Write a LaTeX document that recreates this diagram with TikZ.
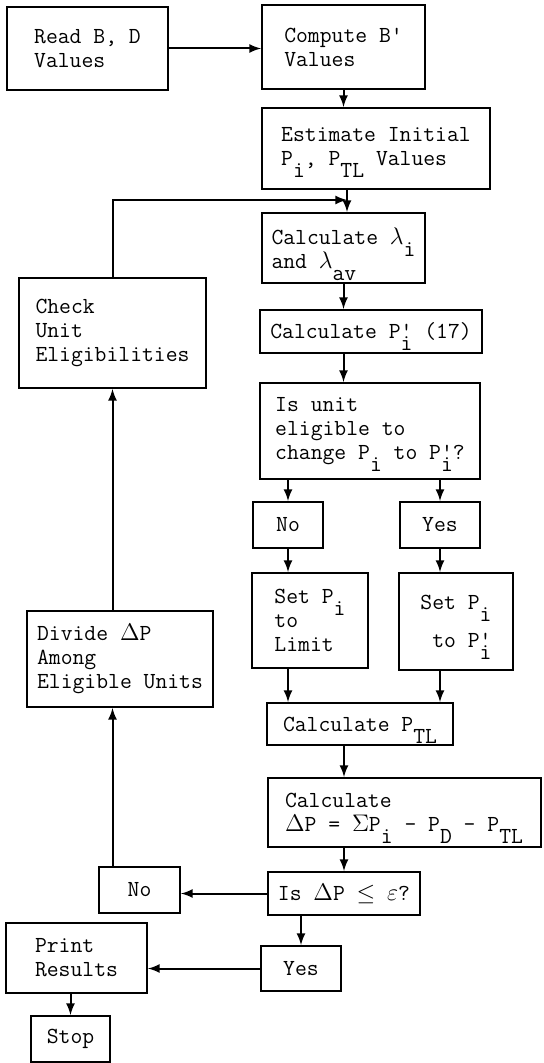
\documentclass[tikz,border=0pt]{standalone}
\usepackage{amsmath,amssymb}
\usetikzlibrary{arrows,calc}
\tikzset{>=latex}
\newcommand{\lo}[1]{\raisebox{-6pt}[0pt][0pt]{#1}}
\newcommand{\Pp}{P\rlap{'}\lo{i}}
\tikzset{
  box/.style={draw,line width=1pt,align=left,inner sep=0pt,
    font=\fontsize{11.5}{12}\selectfont\ttfamily},
  flow/.style={->,line width=1pt}
}

\begin{document}
\begin{tikzpicture}[x=0.5pt,y=-0.5pt]
  \useasboundingbox (0,0) rectangle (543,1063);

  % Boxes
  \node[box,minimum width=80.5pt,minimum height=41.5pt] (read) at (87.5,48.5) {Read B, D\\Values};
  \node[box,minimum width=81.5pt,minimum height=42pt] (compute) at (343.5,47) {Compute B'\\Values};
  \node[box,minimum width=114pt,minimum height=40.5pt] (estimate) at (376,148.5) {Estimate Initial\\P\lo{i}, P\lo{TL} Values};
  \node[box,minimum width=81.5pt,minimum height=35pt] (lambda) at (343.5,248) {Calculate $\lambda$\lo{i}\\and $\lambda$\lo{av}};
  \node[box,minimum width=93.5pt,minimum height=55pt] (check) at (112.5,333) {Check\\Unit\\Eligibilities};
  \node[box,minimum width=111pt,minimum height=21.5pt] (calcp) at (371,331.5) {Calculate \Pp{} (17)};
  \node[box,minimum width=110pt,minimum height=48pt] (elig) at (370,431) {Is unit\\eligible to\\change P\lo{i} to \Pp?};
  \node[box,minimum width=35pt,minimum height=23pt] (no1) at (288,525) {No};
  \node[box,minimum width=40pt,minimum height=23pt] (yes1) at (440,525) {Yes};
  \node[box,minimum width=58pt,minimum height=47.5pt] (limit) at (310,620.5) {Set P\lo{i}\\to\\Limit};
  \node[box,minimum width=57pt,minimum height=48.5pt] (setp) at (456,621.5) {Set P\lo{i}\\[7pt]\ to \Pp};
  \node[box,minimum width=93pt,minimum height=48pt] (divide) at (120,659) {Divide $\Delta$P\\Among\\Eligible Units};
  \node[box,minimum width=93pt,minimum height=21pt] (ptl) at (360,724) {Calculate P\lo{TL}};
  \node[box,minimum width=136.5pt,minimum height=34.5pt] (dp) at (404,812.5) {Calculate\\$\Delta$P = $\Sigma$P\lo{i} - P\lo{D} - P\lo{TL}};
  \node[box,minimum width=76pt,minimum height=21.5pt] (test) at (344,893.5) {Is $\Delta$P $\leq$ $\varepsilon$?};
  \node[box,minimum width=40.5pt,minimum height=23pt] (no2) at (139.5,890) {No};
  \node[box,minimum width=70.5pt,minimum height=35pt] (print) at (76.5,958) {Print\\Results};
  \node[box,minimum width=40pt,minimum height=22.5pt] (yes2) at (301,968.5) {Yes};
  \node[box,minimum width=39.5pt,minimum height=23pt] (stop) at (70.5,1039) {Stop};
  \coordinate (join) at (347,200);

  % Arrows
  \draw[flow] (read) -- (read -| compute.west);
  \draw[flow] (compute.south) -- (compute.south |- estimate.north);
  \draw[line width=1pt] (join |- estimate.south) -- (join);
  \draw[flow] (join) -- (join |- lambda.north);
  \draw[flow] (check.north) |- (join);
  \draw[flow] (lambda.south) -- (lambda.south |- calcp.north);
  \draw[flow] (lambda.south |- calcp.south) -- (lambda.south |- elig.north);
  \draw[flow] (no1.north |- elig.south) -- (no1.north);
  \draw[flow] (yes1.north |- elig.south) -- (yes1.north);
  \draw[flow] (no1.south) -- (no1.south |- limit.north);
  \draw[flow] (yes1.south) -- (yes1.south |- setp.north);
  \draw[flow] (no1.south |- limit.south) -- (no1.south |- ptl.north);
  \draw[flow] (yes1.south |- setp.south) -- (yes1.south |- ptl.north);
  \draw[flow] (test.north |- ptl.south) -- (test.north |- dp.north);
  \draw[flow] (test.north |- dp.south) -- (test.north);
  \draw[flow] (test.west) -- (test.west -| no2.east);
  \draw[flow] (check.south |- no2.north) -- (check.south |- divide.south);
  \draw[flow] (check.south |- divide.north) -- (check.south);
  \draw[flow] (yes2.north |- test.south) -- (yes2.north);
  \draw[flow] (yes2.west) -- (yes2.west -| print.east);
  \draw[flow] (stop.north |- print.south) -- (stop.north);
\end{tikzpicture}
\end{document}
